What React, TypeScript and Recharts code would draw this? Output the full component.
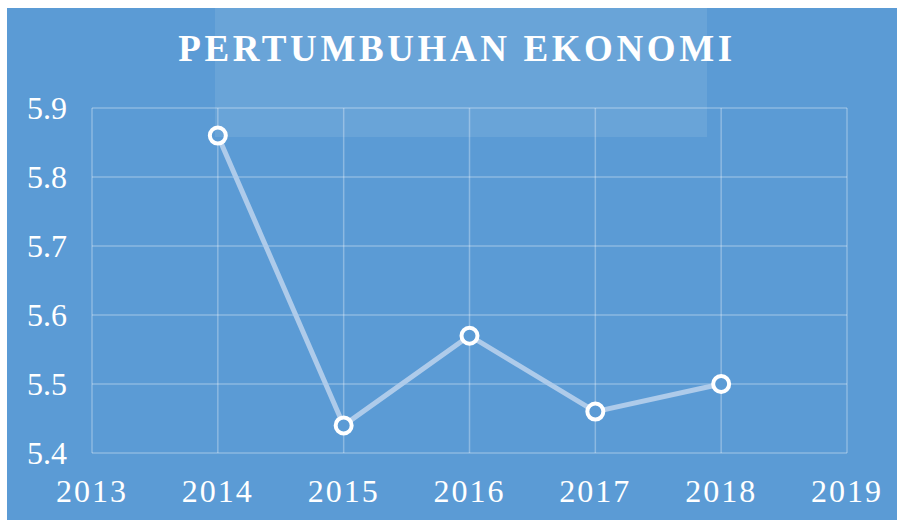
import { LineChart, Line, XAxis, YAxis, CartesianGrid } from "recharts";

const years = [2014, 2015, 2016, 2017, 2018];
const growth = [5.86, 5.44, 5.57, 5.46, 5.5];
const xTicks = [2013, 2014, 2015, 2016, 2017, 2018, 2019];
const yTicks = [5.4, 5.5, 5.6, 5.7, 5.8, 5.9];

const BG = "#5b9bd5";
const FONT = "Liberation Serif";

export default function App() {
  const chartData = years.map((y, i) => ({ year: y, value: growth[i] }));

  return (
    <div
      style={{
        position: "fixed",
        left: 7,
        top: 8,
        width: 890,
        height: 512,
        backgroundColor: BG,
        overflow: "hidden",
      }}
    >
      <div
        style={{
          position: "absolute",
          left: 10,
          right: 0,
          top: 23,
          textAlign: "center",
          fontFamily: FONT,
          fontWeight: "bold",
          fontSize: 37,
          lineHeight: "36px",
          letterSpacing: 3.6,
          color: "#ffffff",
        }}
      >
        PERTUMBUHAN EKONOMI
      </div>
      <LineChart
        width={890}
        height={512}
        data={chartData}
        margin={{ top: 100, right: 50, bottom: 0, left: 1 }}
      >
        <CartesianGrid stroke="rgba(255,255,255,0.3)" strokeWidth={1.5} />
        <XAxis
          dataKey="year"
          type="number"
          domain={[2013, 2019]}
          ticks={xTicks}
          height={67}
          axisLine={false}
          tickLine={false}
          tickSize={0}
          tickMargin={26}
          tick={{ fill: "#ffffff", fontSize: 32, fontFamily: FONT, letterSpacing: 2 }}
        />
        <YAxis
          type="number"
          domain={[5.4, 5.9]}
          ticks={yTicks}
          width={84}
          axisLine={false}
          tickLine={false}
          tickSize={0}
          tickMargin={25}
          tickFormatter={(v: number) => v.toFixed(1)}
          tick={{ fill: "#ffffff", fontSize: 32, fontFamily: FONT }}
        />
        <Line
          type="linear"
          dataKey="value"
          stroke="#aecbea"
          strokeWidth={5}
          dot={{ r: 8, stroke: "#ffffff", strokeWidth: 4, fill: BG }}
          isAnimationActive={false}
        />
      </LineChart>
      {/* faint watermark block behind the title */}
      <div
        style={{
          position: "absolute",
          left: 208,
          top: 0,
          width: 492,
          height: 129,
          backgroundColor: "rgba(255,255,255,0.09)",
          pointerEvents: "none",
        }}
      />
    </div>
  );
}
